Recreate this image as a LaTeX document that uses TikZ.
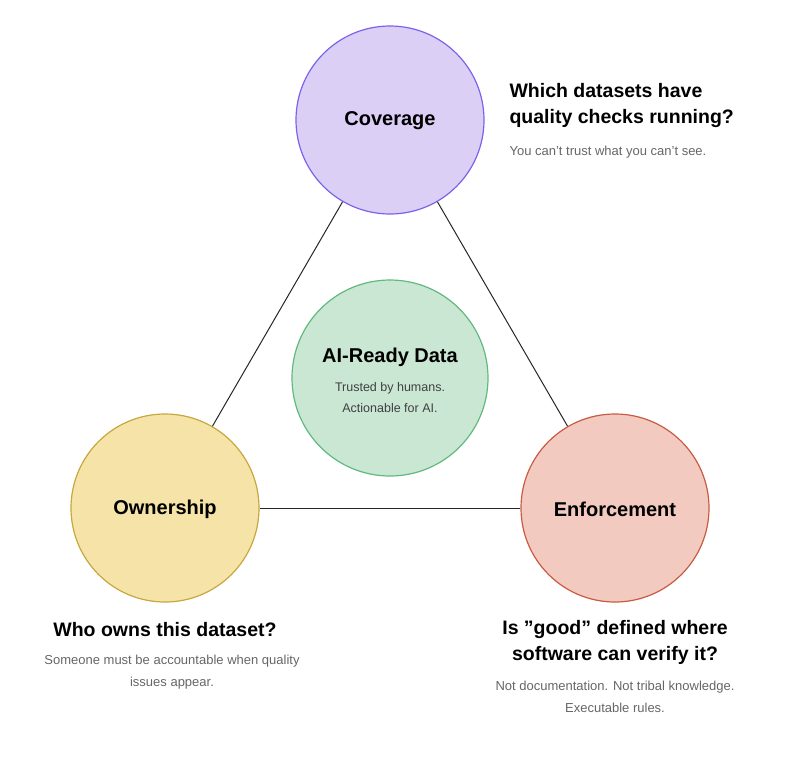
\documentclass[tikz,border=0pt]{standalone}
\usepackage{fontspec}
\setmainfont{Liberation Sans}
\definecolor{covF}{HTML}{DCCFF5}\definecolor{covD}{HTML}{7C63E6}
\definecolor{ownF}{HTML}{F5E3A8}\definecolor{ownD}{HTML}{C8A73E}
\definecolor{enfF}{HTML}{F2CABF}\definecolor{enfD}{HTML}{C95A43}
\definecolor{aiF}{HTML}{CAE7D4}\definecolor{aiD}{HTML}{62B97E}
\definecolor{sub}{HTML}{666666}
\begin{document}
\begin{tikzpicture}[x=1pt,y=-1pt,
 circ/.style={circle,minimum size=188pt,inner sep=0pt,line width=1.2pt},
 lbl/.style={font=\fontsize{20}{24}\selectfont\bfseries},
 q/.style={font=\fontsize{19.5}{26}\selectfont\bfseries,align=center},
 s/.style={font=\fontsize{13}{21.5}\selectfont,text=sub,align=center},
 edge/.style={line width=1pt,black!85}]
\useasboundingbox (0,0) rectangle (800,761);
\node[circ,fill=covF,draw=covD] (cov) at (390,120) {};
\node[circ,fill=ownF,draw=ownD] (own) at (165,508) {};
\node[circ,fill=enfF,draw=enfD] (enf) at (615,508) {};
\node[circ,minimum size=196pt,fill=aiF,draw=aiD] (ai) at (390,378) {};
\draw[edge] (cov) -- (own);
\draw[edge] (cov) -- (enf);
\draw[edge] (own) -- (enf);
\node[lbl] (covL) at (390,121) {Coverage};
\node[lbl] (ownL) at (165,509) {Ownership};
\node[lbl] (enfL) at (615,509) {Enforcement};
\node[lbl] (aiL) at (390,357) {AI-Ready Data};
\node[s,font=\fontsize{12.5}{21}\selectfont,text=black!75] (aiS) at (390,398) {Trusted by humans.\\Actionable for AI.};
\node[q,align=left,anchor=west] (covQ) at (506,105) {Which datasets have\\quality checks running?};
\node[s,anchor=west] (covS) at (506,152) {You can't trust what you can't see.};
\node[q] (ownQ) at (165,630) {Who owns this dataset?};
\node[s] (ownS) at (172,672) {Someone must be accountable when quality\\issues appear.};
\node[q] (enfQ) at (615,642) {Is "good" defined where\\software can verify it?};
\node[s] (enfS) at (615,697) {Not documentation. Not tribal knowledge.\\Executable rules.};
\end{tikzpicture}
\end{document}
